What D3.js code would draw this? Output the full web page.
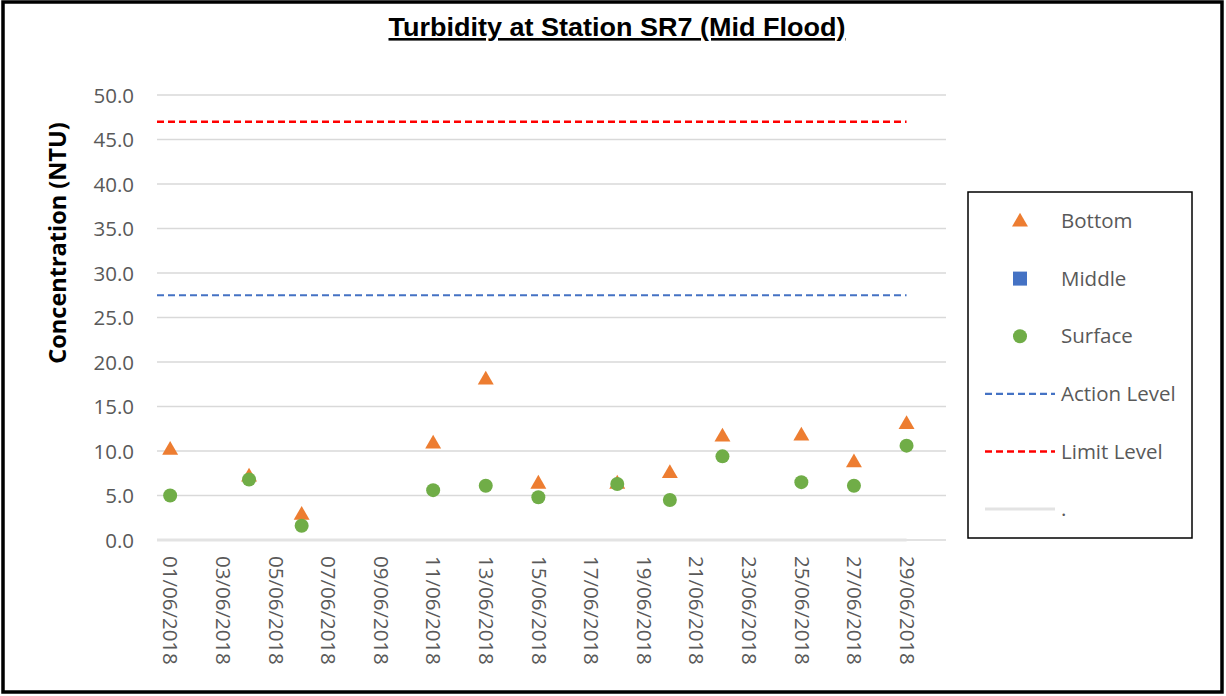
<!DOCTYPE html>
<html><head><meta charset="utf-8">
<script src="https://cdn.jsdelivr.net/npm/d3@7"></script>
<style>body{margin:0;background:#fff}svg{display:block}</style>
</head><body>
<svg id="c" width="1226" height="696"></svg>
<script>
const dates = ["2018-06-01","2018-06-04","2018-06-06","2018-06-11","2018-06-13","2018-06-15","2018-06-18","2018-06-20","2018-06-22","2018-06-25","2018-06-27","2018-06-29"];
const bottom = [10.2,7.2,2.9,10.9,18.1,6.4,6.4,7.6,11.7,11.8,8.8,13.1];
const middle = [];
const surface = [5.0,6.8,1.6,5.6,6.1,4.8,6.3,4.5,9.4,6.5,6.1,10.6];
const actionLevel = 27.5;
const limitLevel = 47.0;
const yTicks = [0,5,10,15,20,25,30,35,40,45,50];
const xTickLabels = ["01/06/2018","03/06/2018","05/06/2018","07/06/2018","09/06/2018","11/06/2018","13/06/2018","15/06/2018","17/06/2018","19/06/2018","21/06/2018","23/06/2018","25/06/2018","27/06/2018","29/06/2018"];
const legendLabels = ["Bottom","Middle","Surface","Action Level","Limit Level","."];

const parse = d3.timeParse("%Y-%m-%d");
const parseTick = d3.timeParse("%d/%m/%Y");
const svg = d3.select("#c");
const font = "'Open Sans', sans-serif";
const grey = "#595959";

const x = d3.scaleTime()
  .domain([new Date(2018,4,31,12), new Date(2018,5,30,12)])
  .range([157, 946]);
const y = d3.scaleLinear().domain([0,50]).range([540,95]);

// outer border
svg.append("rect").attr("x",3).attr("y",2).attr("width",1219).attr("height",690)
  .attr("fill","#fff").attr("stroke","#000").attr("stroke-width",3.5);

// title
svg.append("text").attr("x",617).attr("y",36).attr("text-anchor","middle")
  .attr("font-family","'Liberation Sans Narrow','Arial Narrow','Liberation Sans',sans-serif")
  .attr("font-weight","bold").attr("font-size",26)
  .attr("text-decoration","underline")
  .attr("textLength",457).attr("lengthAdjust","spacingAndGlyphs")
  .text("Turbidity at Station SR7 (Mid Flood)");

// gridlines
svg.append("g").selectAll("line").data(yTicks).join("line")
  .attr("x1",x.range()[0]).attr("x2",x.range()[1])
  .attr("y1",d=>y(d)).attr("y2",d=>y(d))
  .attr("stroke","#d9d9d9").attr("stroke-width",1.5);

// y axis labels
const yAxis = d3.axisLeft(y).tickValues(yTicks).tickFormat(d3.format(".1f")).tickSize(0).tickPadding(0);
const gy = svg.append("g").attr("transform","translate(134,0)").call(yAxis);
gy.select(".domain").remove();
gy.selectAll("text").attr("font-family",font).attr("font-size",20.5).attr("fill",grey).attr("dy","0.35em");

// x axis labels
const xAxis = d3.axisBottom(x).tickValues(xTickLabels.map(parseTick)).tickFormat(d3.timeFormat("%d/%m/%Y")).tickSize(0).tickPadding(0);
const gx = svg.append("g").attr("transform","translate(0,556)").call(xAxis);
gx.select(".domain").remove();
gx.selectAll("text").attr("font-family",font).attr("font-size",20.5).attr("fill",grey)
  .attr("transform","rotate(90)").attr("text-anchor","start")
  .attr("x",0).attr("y",0).attr("dy","0.35em");

// "." series (light grey line at zero)
const xEnd = x(parse(dates[dates.length-1]));
svg.append("line").attr("x1",x.range()[0]).attr("x2",xEnd)
  .attr("y1",y(0)).attr("y2",y(0)).attr("stroke","#e3e3e3").attr("stroke-width",3);

// level lines
svg.append("line").attr("x1",x.range()[0]).attr("x2",xEnd)
  .attr("y1",y(actionLevel)).attr("y2",y(actionLevel))
  .attr("stroke","#4472C4").attr("stroke-width",2.2).attr("stroke-dasharray","7,4");
svg.append("line").attr("x1",x.range()[0]).attr("x2",xEnd)
  .attr("y1",y(limitLevel)).attr("y2",y(limitLevel))
  .attr("stroke","#FF0000").attr("stroke-width",2.5).attr("stroke-dasharray","7,4");

// points
const tri = d3.symbol().type(d3.symbolTriangle).size(110);
svg.append("g").selectAll("path").data(dates.map((d,i)=>({d:parse(d),v:bottom[i]}))).join("path")
  .attr("d",tri).attr("fill","#ED7D31")
  .attr("transform",p=>`translate(${x(p.d)},${y(p.v)+1})`);
svg.append("g").selectAll("rect").data(middle).join("rect");
svg.append("g").selectAll("circle").data(dates.map((d,i)=>({d:parse(d),v:surface[i]}))).join("circle")
  .attr("cx",p=>x(p.d)).attr("cy",p=>y(p.v)).attr("r",7).attr("fill","#70AD47");

// legend
const lg = svg.append("g");
lg.append("rect").attr("x",968).attr("y",192).attr("width",224).attr("height",346)
  .attr("fill","#fff").attr("stroke","#000").attr("stroke-width",1.5);
const ly = i => 221 + i*57.6;
legendLabels.forEach((t,i)=>{
  lg.append("text").attr("x",1061).attr("y",ly(i)).attr("dy","0.35em")
    .attr("font-family",font).attr("font-size",20.5).attr("fill",grey).text(t);
});
lg.append("path").attr("d",tri).attr("fill","#ED7D31").attr("transform",`translate(1020,${ly(0)+1})`);
lg.append("rect").attr("x",1013).attr("y",ly(1)-7).attr("width",14).attr("height",14).attr("fill","#4472C4");
lg.append("circle").attr("cx",1020).attr("cy",ly(2)).attr("r",7).attr("fill","#70AD47");
lg.append("line").attr("x1",985).attr("x2",1055).attr("y1",ly(3)).attr("y2",ly(3))
  .attr("stroke","#4472C4").attr("stroke-width",2.2).attr("stroke-dasharray","7,4");
lg.append("line").attr("x1",985).attr("x2",1055).attr("y1",ly(4)).attr("y2",ly(4))
  .attr("stroke","#FF0000").attr("stroke-width",2.5).attr("stroke-dasharray","7,4");
lg.append("line").attr("x1",985).attr("x2",1055).attr("y1",ly(5)).attr("y2",ly(5))
  .attr("stroke","#e3e3e3").attr("stroke-width",3);

// y title
svg.append("text").attr("transform","translate(58,243) rotate(-90)")
  .attr("text-anchor","middle").attr("dy","0.35em")
  .attr("font-family",font).attr("font-weight","bold").attr("font-size",23.5).attr("fill","#000")
  .text("Concentration (NTU)");
</script>
</body></html>
